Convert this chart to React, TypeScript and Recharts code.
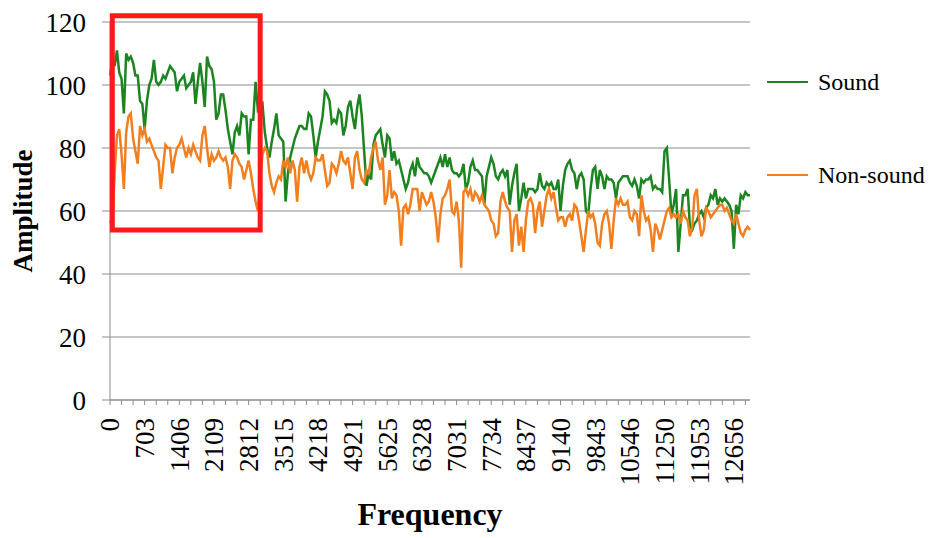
import React from 'react';
import {
  LineChart,
  Line,
  XAxis,
  YAxis,
  CartesianGrid,
  Legend,
  ReferenceArea
} from 'recharts';

// Amplitude per frequency bin
const sound = [
  103, 108, 106, 111, 104, 102, 91, 110, 108, 109,
  107, 103, 103, 95, 94, 86, 95, 100, 102, 108,
  101, 100, 101, 103, 102, 104, 106, 105, 104, 98,
  101, 102, 103, 99, 100, 101, 104, 94, 101, 107,
  101, 93, 109, 106, 105, 101, 89, 91, 97, 97,
  92, 86, 82, 78, 85, 87, 84, 91, 90, 90,
  78, 89, 89, 101, 92, 93, 94, 85, 80, 77,
  82, 86, 91, 84, 83, 82, 63, 72, 77, 80,
  83, 85, 87, 87, 86, 86, 91, 90, 84, 77,
  82, 86, 90, 98, 97, 95, 88, 89, 88, 92,
  91, 84, 87, 93, 95, 90, 86, 93, 97, 90,
  79, 68, 72, 70, 81, 84, 85, 86, 81, 77,
  84, 83, 76, 79, 75, 76, 73, 70, 67, 69,
  73, 75, 71, 77, 74, 73, 72, 72, 71, 69,
  71, 73, 75, 77, 74, 78, 74, 77, 73, 72,
  72, 71, 72, 75, 67, 69, 74, 76, 73, 73,
  72, 71, 62, 71, 74, 77, 75, 71, 70, 72,
  73, 71, 73, 62, 68, 72, 75, 60, 64, 69,
  64, 67, 67, 67, 66, 67, 72, 68, 67, 69,
  68, 69, 67, 67, 70, 60, 68, 73, 75, 76,
  73, 72, 67, 71, 72, 70, 60, 59, 67, 73,
  74, 67, 73, 71, 67, 71, 70, 70, 69, 64,
  69, 70, 71, 71, 71, 69, 68, 70, 68, 64,
  70, 69, 70, 70, 71, 67, 68, 67, 67, 66,
  79, 80, 70, 59, 62, 67, 47, 56, 65, 65,
  67, 55, 54, 56, 57, 59, 60, 58, 61, 62,
  65, 64, 67, 62, 64, 63, 64, 63, 62, 60,
  48, 62, 59, 65, 64, 66, 65, 65
];

const nonSound = [
  57, 55, 72, 84, 86, 78, 67, 85, 90, 91,
  83, 79, 75, 87, 84, 86, 82, 83, 81, 79,
  77, 76, 67, 74, 81, 80, 80, 72, 77, 80,
  81, 83, 80, 77, 80, 78, 81, 79, 77, 76,
  84, 87, 80, 74, 78, 76, 77, 79, 77, 76,
  77, 74, 67, 76, 78, 77, 75, 74, 70, 73,
  76, 72, 67, 63, 60, 70, 78, 80, 79, 72,
  68, 66, 69, 71, 70, 76, 74, 77, 72, 76,
  73, 63, 74, 77, 72, 76, 72, 70, 72, 77,
  76, 76, 78, 73, 68, 69, 75, 74, 72, 75,
  79, 76, 75, 77, 72, 67, 77, 79, 73, 70,
  69, 73, 72, 77, 80, 82, 76, 73, 77, 62,
  65, 73, 64, 66, 65, 60, 49, 61, 62, 59,
  62, 67, 67, 67, 60, 66, 64, 62, 63, 66,
  63, 58, 50, 59, 64, 65, 67, 70, 60, 59,
  63, 57, 42, 66, 67, 65, 67, 63, 66, 65,
  63, 65, 62, 61, 60, 57, 56, 52, 53, 63,
  66, 63, 61, 60, 47, 57, 59, 49, 55, 47,
  57, 63, 64, 62, 53, 60, 63, 55, 60, 65,
  67, 64, 66, 61, 57, 58, 58, 55, 58, 59,
  57, 62, 61, 57, 52, 47, 54, 60, 58, 59,
  56, 50, 49, 56, 59, 60, 56, 48, 57, 64,
  62, 64, 62, 62, 63, 58, 57, 60, 59, 52,
  65, 60, 57, 58, 54, 47, 56, 54, 51, 54,
  57, 60, 61, 58, 59, 58, 59, 56, 60, 58,
  57, 52, 55, 65, 67, 57, 52, 54, 61, 60,
  58, 59, 60, 61, 62, 62, 60, 61, 59, 57,
  56, 59, 56, 53, 52, 54, 55, 54
];

const seriesNames = ['Sound', 'Non-sound'];

// labelled frequencies on the x axis (every 15th bin)
const xTickLabels = [
  '0', '703', '1406', '2109', '2812', '3515', '4218', '4921', '5625', '6328',
  '7031', '7734', '8437', '9140', '9843', '10546', '11250', '11953', '12656'
];
const yTicks = [0, 20, 40, 60, 80, 100, 120];

const BIN_HZ = 46.875;
// red box marking the low frequency region
const highlightBins = [1, 65];
const highlightAmp = [54, 122];

const frequencies = sound.map((_, i) => Math.floor(i * BIN_HZ));
const data = frequencies.map((freq, i) => ({
  freq,
  sound: sound[i],
  nonSound: nonSound[i]
}));

const FONT = '"Liberation Serif", "Times New Roman", serif';
const GREEN = '#1c8420';
const ORANGE = '#f17f1f';
const GRID = '#8c8c8c';

function FreqTick(props: any) {
  const { x, y, payload } = props;
  const label = String(payload.value);
  if (!xTickLabels.includes(label)) return null;
  return (
    <g transform={`translate(${x},${y})`}>
      <text
        transform="rotate(-90)"
        textAnchor="end"
        dy="0.35em"
        fontSize={27}
        fontFamily={FONT}
        fill="#000"
      >
        {label}
      </text>
    </g>
  );
}

// keep the series order (recharts sorts legend items by name otherwise)
function LegendBox(props: any) {
  const items = [...(props.payload || [])].sort(
    (a: any, b: any) => seriesNames.indexOf(a.value) - seriesNames.indexOf(b.value)
  );
  return (
    <div style={{ fontFamily: FONT, fontSize: 24, color: '#000' }}>
      {items.map((entry: any, idx: number) => (
        <div
          key={entry.value}
          style={{
            display: 'flex',
            alignItems: 'center',
            height: 44,
            marginBottom: idx === 0 ? 49 : 0
          }}
        >
          <div style={{ width: 41, height: 2.5, background: entry.color, marginRight: 10 }} />
          <span>{entry.value}</span>
        </div>
      ))}
    </div>
  );
}

export default function App(): JSX.Element {
  return (
    <div style={{ width: 934, height: 538, background: '#fff' }}>
      <style>{'body{margin:0;}'}</style>
      <LineChart
        width={934}
        height={538}
        data={data}
        margin={{ top: 22, right: 184, left: 0, bottom: 0 }}
      >
        <CartesianGrid vertical={false} stroke={GRID} strokeWidth={1} />
        <XAxis
          dataKey="freq"
          interval={4}
          height={138}
          tickSize={5}
          tickMargin={13}
          stroke={GRID}
          tick={(p: any) => <FreqTick {...p} />}
          label={{
            value: 'Frequency',
            position: 'insideBottom',
            offset: 13,
            fontSize: 32,
            fontWeight: 700,
            fill: '#000',
            style: { fontFamily: FONT, fontSize: 32, fontWeight: 700, fill: '#000' }
          }}
        />
        <YAxis
          domain={[0, 120]}
          ticks={yTicks}
          width={110}
          tickSize={8}
          tickMargin={16}
          stroke={GRID}
          tick={{ fontSize: 27, fill: '#000', fontFamily: FONT }}
          label={{
            value: 'Amplitude',
            angle: -90,
            position: 'insideLeft',
            offset: 22,
            style: {
              textAnchor: 'middle',
              fontFamily: FONT,
              fontSize: 27,
              fontWeight: 700,
              fill: '#000'
            }
          }}
        />
        <Legend
          layout="vertical"
          align="center"
          verticalAlign="middle"
          content={<LegendBox />}
          wrapperStyle={{ left: 767, top: 60, width: 167 }}
        />
        <Line
          type="linear"
          dataKey="sound"
          name={seriesNames[0]}
          stroke={GREEN}
          strokeWidth={2.5}
          dot={false}
          isAnimationActive={false}
        />
        <Line
          type="linear"
          dataKey="nonSound"
          name={seriesNames[1]}
          stroke={ORANGE}
          strokeWidth={2.5}
          dot={false}
          isAnimationActive={false}
        />
        <ReferenceArea
          x1={frequencies[highlightBins[0]]}
          x2={frequencies[highlightBins[1]]}
          y1={highlightAmp[0]}
          y2={highlightAmp[1]}
          fill="none"
          fillOpacity={0}
          stroke="#ff1a1a"
          strokeWidth={5}
          ifOverflow="visible"
          zIndex={1000}
        />
      </LineChart>
    </div>
  );
}
